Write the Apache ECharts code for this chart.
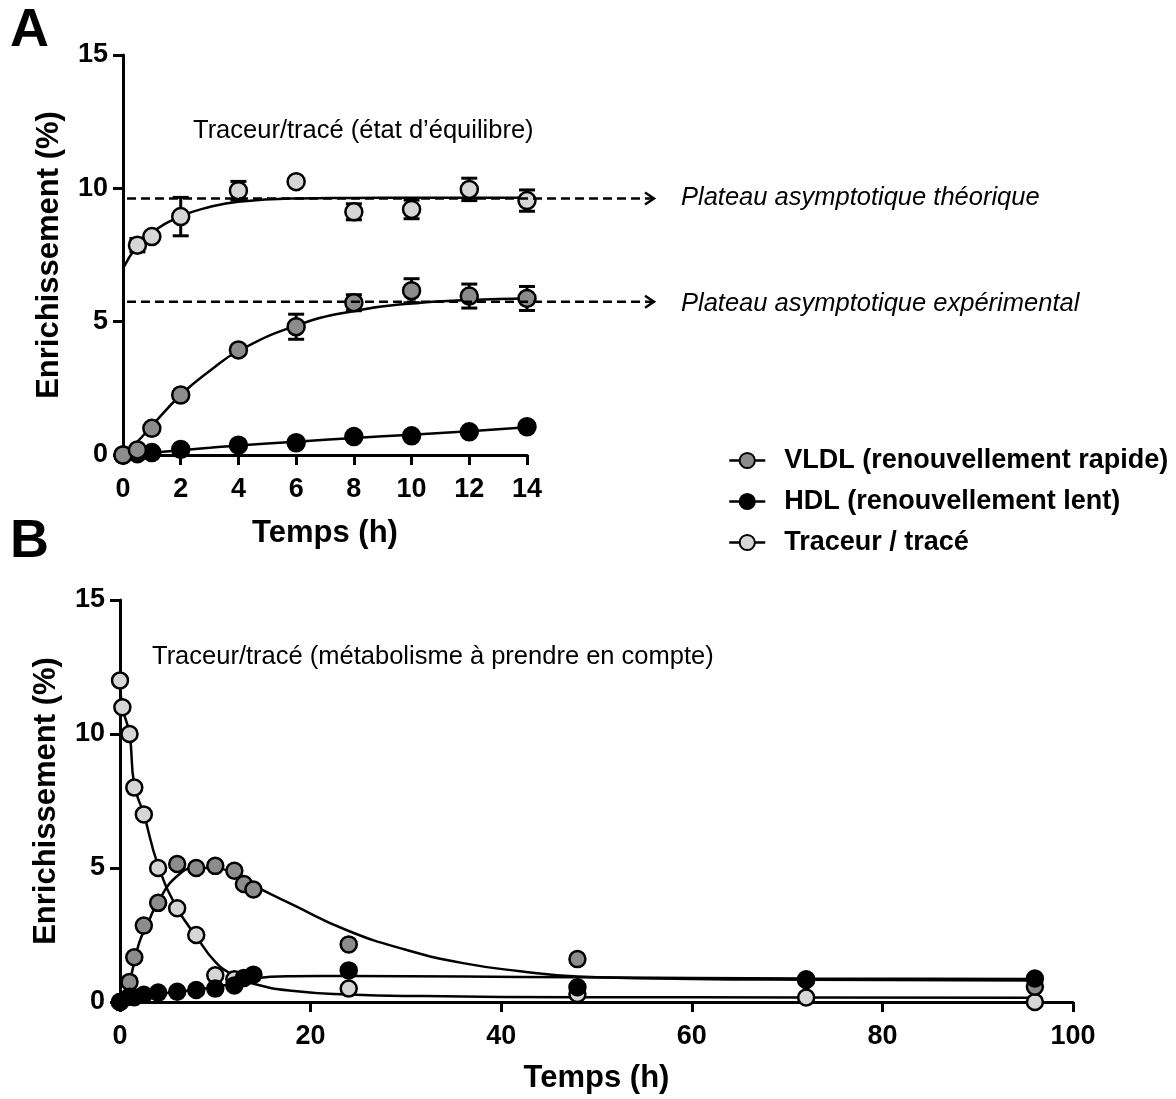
<!DOCTYPE html>
<html><head><meta charset="utf-8">
<script src="https://cdn.jsdelivr.net/npm/echarts@6/dist/echarts.min.js"></script>
<style>html,body{margin:0;padding:0;background:#fff}#c{width:1176px;height:1099px}</style>
</head><body><div id="c"></div>
<script>
// ---------- Panel A (steady state) ----------
const timeA = [0, 0.5, 1, 2, 4, 6, 8, 10, 12, 14];
const traceurA = [null, 7.87, 8.19, 8.94, 9.91, 10.25, 9.12, 9.21, 9.96, 9.54];
const traceurErrA = [0, 0.25, 0.15, 0.72, 0.35, 0, 0.3, 0.35, 0.42, 0.4];
const vldlA = [0, 0.19, 1.0, 2.25, 3.94, 4.81, 5.71, 6.16, 5.96, 5.87];
const vldlErrA = [0, 0, 0, 0, 0.15, 0.47, 0.3, 0.45, 0.45, 0.45];
const hdlA = [0, 0.05, 0.09, 0.21, 0.37, 0.46, 0.69, 0.72, 0.87, 1.06];
// fitted curves
const fitTimeA = [0, 0.5, 1, 2, 3, 4, 6, 8, 10, 12, 14];
const traceurFitA = [7.0, 7.85, 8.35, 8.95, 9.3, 9.5, 9.62, 9.64, 9.65, 9.65, 9.65];
const vldlFitA = [0, 0.5, 1.1, 2.25, 3.15, 3.9, 4.85, 5.4, 5.68, 5.81, 5.87];
const hdlFitA = [0, 0.04, 0.08, 0.18, 0.27, 0.36, 0.5, 0.64, 0.76, 0.89, 1.04];
const plateauTheo = 9.62;
const plateauExp = 5.75;

// ---------- Panel B (metabolism) ----------
const timeTraceurB = [0, 0.25, 1, 1.5, 2.5, 4, 6, 8, 10, 12, 24, 48, 72, 96];
const traceurB = [12.0, 11.0, 10.0, 8.0, 7.0, 5.0, 3.5, 2.5, 1.0, 0.85, 0.5, 0.3, 0.17, 0.0];
const timeVldlB = [0, 1, 1.5, 2.5, 4, 6, 8, 10, 12, 13, 14, 24, 48, 72, 96];
const vldlB = [0, 0.75, 1.67, 2.85, 3.7, 5.15, 5.0, 5.08, 4.9, 4.4, 4.2, 2.15, 1.6, 0.82, 0.57];
const timeHdlB = [0, 1, 1.5, 2.5, 4, 6, 8, 10, 12, 13, 14, 24, 48, 72, 96];
const hdlB = [0, 0.2, 0.18, 0.27, 0.35, 0.38, 0.45, 0.5, 0.62, 0.9, 1.02, 1.18, 0.55, 0.85, 0.88];
// fitted curves
const fitTimeTraceurB = [0, 0.25, 1, 1.5, 2.5, 4, 6, 8, 10, 12, 14, 18, 24, 32, 48, 72, 96];
const traceurFitB = [12.0, 11.0, 10.0, 8.1, 7.0, 5.1, 3.5, 2.45, 1.5, 0.98, 0.68, 0.42, 0.28, 0.22, 0.18, 0.17, 0.16];
const fitTimeVldlB = [0, 1, 2, 3, 4, 6, 8, 10, 12, 14, 18, 24, 30, 36, 42, 48, 60, 72, 96];
const vldlFitB = [0, 0.8, 2.2, 3.0, 3.75, 4.7, 5.0, 5.0, 4.75, 4.35, 3.65, 2.65, 1.95, 1.45, 1.15, 0.95, 0.86, 0.83, 0.8];
const fitTimeHdlB = [0, 2, 4, 6, 8, 10, 12, 14, 18, 24, 36, 48, 72, 96];
const hdlFitB = [0, 0.2, 0.3, 0.38, 0.46, 0.56, 0.7, 0.88, 0.96, 0.97, 0.95, 0.92, 0.88, 0.86];

// ---------- labels ----------
const legendNames = ['VLDL (renouvellement rapide)', 'HDL (renouvellement lent)', 'Traceur / tracé'];
const axisTitleX = 'Temps (h)';
const axisTitleY = 'Enrichissement (%)';
const noteA = 'Traceur/tracé (état d’équilibre)';
const noteB = 'Traceur/tracé (métabolisme à prendre en compte)';
const plateauTheoText = 'Plateau asymptotique théorique';
const plateauExpText = 'Plateau asymptotique expérimental';

const FONT = "'Liberation Sans', Arial, sans-serif";
const C_VLDL = '#8c8c8c', C_TRAC = '#d6d6d6', C_HDL = '#000000';

const zip = (xs, ys) => xs.map((x, i) => [x, ys[i]]).filter(p => p[1] != null);
const zip3 = (xs, ys, es) => xs.map((x, i) => [x, ys[i], es[i]]).filter(p => p[1] != null && p[2] > 0);

function axisCommon(min, max, interval, gap, isY) {
  return {
    type: 'value', min, max, interval,
    axisLine: { show: true, onZero: false, lineStyle: { color: '#000', width: 3 } },
    axisTick: { show: true, length: 10, lineStyle: { color: '#000', width: 3 } },
    splitLine: { show: false },
    axisLabel: { color: '#000', fontSize: 27, fontWeight: 'bold', fontFamily: FONT, margin: isY ? 15 : 21 },
    nameLocation: 'middle', nameGap: gap,
    nameTextStyle: { color: '#000', fontSize: 31, fontWeight: 'bold', fontFamily: FONT }
  };
}

function fitLine(name, xs, ys, ax, color) {
  return {
    type: 'line', name, xAxisIndex: ax, yAxisIndex: ax, data: zip(xs, ys),
    symbol: 'none', smooth: 0.5, silent: true, z: 2,
    lineStyle: { color: '#000', width: 2.5 },
    itemStyle: { color: color, borderColor: '#000', borderWidth: 2 }
  };
}
function points(name, xs, ys, ax, color, size, z) {
  return {
    type: 'scatter', name, xAxisIndex: ax, yAxisIndex: ax, data: zip(xs, ys),
    symbol: 'circle', symbolSize: size, clip: false, silent: true, z: z,
    itemStyle: { color: color, borderColor: '#000', borderWidth: 2.5, opacity: 1 }
  };
}
function errRender(params, api) {
  const x = api.value(0), y = api.value(1), e = api.value(2);
  const top = api.coord([x, y + e]), bot = api.coord([x, y - e]);
  const h = 8, st = { stroke: '#000', lineWidth: 3 };
  return { type: 'group', children: [
    { type: 'line', shape: { x1: top[0], y1: top[1], x2: bot[0], y2: bot[1] }, style: st },
    { type: 'line', shape: { x1: top[0] - h, y1: top[1], x2: top[0] + h, y2: top[1] }, style: st },
    { type: 'line', shape: { x1: bot[0] - h, y1: bot[1], x2: bot[0] + h, y2: bot[1] }, style: st }
  ]};
}
function errSeries(xs, ys, es) {
  return { type: 'custom', xAxisIndex: 0, yAxisIndex: 0, data: zip3(xs, ys, es),
    renderItem: errRender, encode: { x: 0, y: 1 }, silent: true, z: 3, clip: false };
}

const chart = echarts.init(document.getElementById('c'), null, { renderer: 'canvas' });

const option = {
  backgroundColor: '#fff',
  animation: false,
  textStyle: { fontFamily: FONT },
  grid: [
    { left: 123, top: 55, width: 404, height: 400 },
    { left: 120, top: 600, width: 953, height: 402 }
  ],
  xAxis: [
    Object.assign(axisCommon(0, 14, 2, 63, false), { gridIndex: 0, name: axisTitleX }),
    Object.assign(axisCommon(0, 100, 20, 61, false), { gridIndex: 1, name: axisTitleX })
  ],
  yAxis: [
    Object.assign(axisCommon(0, 15, 5, 58, true), { gridIndex: 0, name: axisTitleY }),
    Object.assign(axisCommon(0, 15, 5, 58, true), { gridIndex: 1, name: axisTitleY })
  ],
  legend: {
    orient: 'vertical', left: 723, top: 440, selectedMode: false,
    itemWidth: 36, itemHeight: 19, itemGap: 10,
    textStyle: { color: '#000', fontSize: 27, fontWeight: 'bold', fontFamily: FONT, lineHeight: 31, padding: [0, 0, 0, 14] },
    data: [
      { name: legendNames[0], itemStyle: { color: C_VLDL, borderColor: '#000', borderWidth: 2 }, lineStyle: { color: '#000', width: 2.5 } },
      { name: legendNames[1], itemStyle: { color: C_HDL, borderColor: '#000', borderWidth: 2 }, lineStyle: { color: '#000', width: 2.5 } },
      { name: legendNames[2], itemStyle: { color: C_TRAC, borderColor: '#000', borderWidth: 2 }, lineStyle: { color: '#000', width: 2.5 } }
    ]
  },
  series: [
    // Panel A
    fitLine('fitTracA', fitTimeA, traceurFitA, 0, C_TRAC),
    fitLine('fitVldlA', fitTimeA, vldlFitA, 0, C_VLDL),
    fitLine('fitHdlA', fitTimeA, hdlFitA, 0, C_HDL),
    errSeries(timeA, traceurA, traceurErrA),
    errSeries(timeA, vldlA, vldlErrA),
    points('ptTracA', timeA, traceurA, 0, C_TRAC, 17, 4),
    points('ptHdlA', timeA, hdlA, 0, C_HDL, 17, 5),
    points('ptVldlA', timeA, vldlA, 0, C_VLDL, 17, 6),
    // Panel B
    fitLine(legendNames[2], fitTimeTraceurB, traceurFitB, 1, C_TRAC),
    fitLine(legendNames[0], fitTimeVldlB, vldlFitB, 1, C_VLDL),
    fitLine(legendNames[1], fitTimeHdlB, hdlFitB, 1, C_HDL),
    points('ptTracB', timeTraceurB, traceurB, 1, C_TRAC, 16, 4),
    points('ptVldlB', timeVldlB, vldlB, 1, C_VLDL, 16, 5),
    points('ptHdlB', timeHdlB, hdlB, 1, C_HDL, 16, 6)
  ]
};
chart.setOption(option);

// annotations positioned from the axis scales
const pTheo = chart.convertToPixel({ gridIndex: 0 }, [0, plateauTheo]);
const pExp = chart.convertToPixel({ gridIndex: 0 }, [0, plateauExp]);
const arrowEnd = 654;
function dashArrow(p) {
  return [
    { type: 'line', shape: { x1: p[0] + 4, y1: p[1], x2: arrowEnd - 2, y2: p[1] },
      style: { stroke: '#000', lineWidth: 2.5, lineDash: [9, 5] }, z: 10 },
    { type: 'polyline', shape: { points: [[arrowEnd - 9, p[1] - 6], [arrowEnd, p[1]], [arrowEnd - 9, p[1] + 6]] },
      style: { stroke: '#000', lineWidth: 2.5, fill: null }, z: 10 }
  ];
}
const txt = (x, y, text, size, weight, style) => ({
  type: 'text', x, y, z: 10,
  style: { text, fill: '#000', fontSize: size, fontWeight: weight || 'normal', fontStyle: style || 'normal',
           fontFamily: FONT, textAlign: 'left', textVerticalAlign: 'middle' }
});
chart.setOption({
  graphic: [
    txt(10, 31, 'A', 54, 'bold'),
    txt(10, 542, 'B', 54, 'bold'),
    txt(193, 131, noteA, 25.5),
    txt(152, 657, noteB, 25.5),
    ...dashArrow(pTheo),
    ...dashArrow(pExp),
    txt(681, pTheo[1] - 1, plateauTheoText, 25.5, 'normal', 'italic'),
    txt(681, pExp[1] + 2, plateauExpText, 25.5, 'normal', 'italic')
  ]
});
</script>
</body></html>
